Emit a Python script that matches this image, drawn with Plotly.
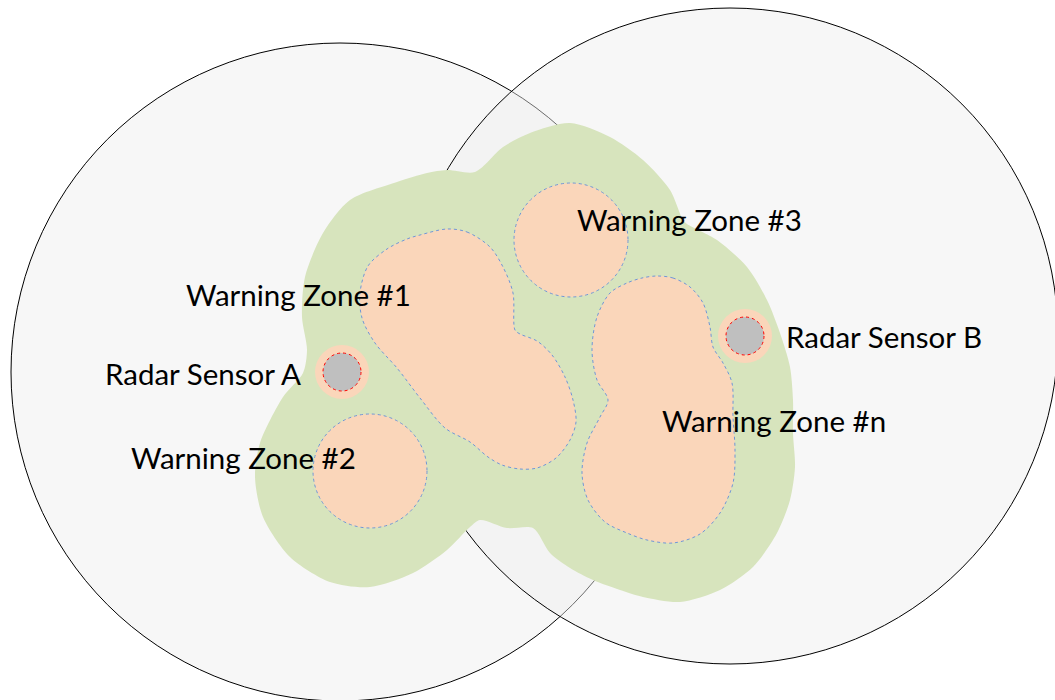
import plotly.graph_objects as go

# ---- data (diagram geometry in pixel units, y downward) ----
coverage_names = ["Radar A coverage", "Radar B coverage"]
coverage_cx = [340, 730]
coverage_cy = [372, 336]
coverage_r = [329, 328]

green_x = [570, 610, 643, 670, 683, 687, 717, 747, 767, 780, 790, 793, 793, 795, 790, 777, 753, 720, 680, 643,
           620, 593, 570, 550, 533, 507, 480, 470, 447, 413, 370, 330, 290, 263, 255, 260, 283, 303, 307, 302,
           305, 323, 350, 397, 427, 447, 475, 503, 530, 570]
green_y = [123, 137, 160, 190, 220, 224, 240, 267, 300, 333, 367, 400, 433, 467, 500, 533, 567, 590, 602, 597,
           590, 580, 568, 553, 528, 528, 520, 527, 550, 573, 587, 582, 557, 517, 477, 443, 397, 373, 350, 317,
           277, 233, 200, 182, 173, 170, 172, 147, 133, 123]

zone1_x = [447, 467, 490, 503, 513, 515, 520, 537, 552, 565, 573, 576, 570, 556, 537, 520, 502, 488, 470, 445,
           420, 397, 375, 362, 360, 368, 387, 407, 420, 447]
zone1_y = [229, 232, 247, 267, 293, 330, 334, 341, 355, 377, 400, 422, 440, 458, 468, 469, 465, 457, 442, 428,
           398, 368, 343, 318, 293, 266, 249, 239, 235, 229]

zonen_x = [657, 673, 690, 703, 710, 713, 723, 732, 733, 735, 733, 720, 700, 673, 647, 627, 605, 588, 582, 587,
           600, 608, 597, 592, 597, 610, 627, 642, 657]
zonen_y = [276, 278, 287, 303, 327, 347, 363, 383, 417, 450, 483, 513, 534, 543, 540, 533, 522, 500, 473, 443,
           417, 400, 380, 350, 317, 293, 283, 278, 276]

round_zone_cx = [370, 571]
round_zone_cy = [471, 240]
round_zone_r = [57, 57]

sensor_names = ["Radar Sensor A", "Radar Sensor B"]
sensor_cx = [342, 745]
sensor_cy = [372, 336]
sensor_halo_r = [27, 27]
sensor_r = [19, 19]

label_text = ["Warning Zone #3", "Warning Zone #1", "Radar Sensor A", "Warning Zone #2",
              "Radar Sensor B", "Warning Zone #n"]
label_x = [575, 184, 103, 129, 784, 660]
label_y = [219, 294, 373, 457, 336, 420]

# ---- styles ----
GREEN = "#D7E4BD"
ORANGE = "#FAD6BA"
BLUE_DOT = "#6F96D8"
GRAY = "#BFBFBF"

fig = go.Figure()
shapes = []

# coverage circles (right one semi-transparent so the overlap darkens)
fills = ["#F7F7F7", "rgba(238,238,238,0.45)"]
for cx, cy, r, fc in zip(coverage_cx, coverage_cy, coverage_r, fills):
    shapes.append(dict(type="circle", xref="x", yref="y", x0=cx - r, x1=cx + r, y0=cy - r, y1=cy + r,
                       fillcolor=fc, line=dict(color="black", width=1), layer="below"))

# green buffer area
fig.add_trace(go.Scatter(x=green_x, y=green_y, mode="lines", fill="toself", fillcolor=GREEN,
                         line=dict(color=GREEN, width=0, shape="spline", smoothing=0.8),
                         hoverinfo="skip", showlegend=False))

# irregular warning zones
for zx, zy in [(zone1_x, zone1_y), (zonen_x, zonen_y)]:
    fig.add_trace(go.Scatter(x=zx, y=zy, mode="lines", fill="toself", fillcolor=ORANGE,
                             line=dict(color=BLUE_DOT, width=1, dash="dot", shape="spline", smoothing=0.9),
                             hoverinfo="skip", showlegend=False))

# round warning zones
for cx, cy, r in zip(round_zone_cx, round_zone_cy, round_zone_r):
    shapes.append(dict(type="circle", xref="x", yref="y", x0=cx - r, x1=cx + r, y0=cy - r, y1=cy + r,
                       fillcolor=ORANGE, line=dict(color=BLUE_DOT, width=1, dash="dot")))

# sensors
for cx, cy, hr, r in zip(sensor_cx, sensor_cy, sensor_halo_r, sensor_r):
    shapes.append(dict(type="circle", xref="x", yref="y", x0=cx - hr, x1=cx + hr, y0=cy - hr, y1=cy + hr,
                       fillcolor=ORANGE, line=dict(width=0)))
    shapes.append(dict(type="circle", xref="x", yref="y", x0=cx - r, x1=cx + r, y0=cy - r, y1=cy + r,
                       fillcolor=GRAY, line=dict(color="red", width=1, dash="dot")))

annotations = []
for t, x, y in zip(label_text, label_x, label_y):
    annotations.append(dict(text=t, x=x, y=y, xref="x", yref="y", xanchor="left", yanchor="middle",
                            showarrow=False, font=dict(family="Lato, Carlito, sans-serif", size=29.5, color="black")))

fig.update_layout(
    width=1055, height=700, margin=dict(l=0, r=0, t=0, b=0),
    paper_bgcolor="white", plot_bgcolor="white",
    shapes=shapes, annotations=annotations,
    xaxis=dict(range=[0, 1055], visible=False, fixedrange=True),
    yaxis=dict(range=[700, 0], visible=False, fixedrange=True),
    showlegend=False,
)

fig.write_html("out.html", config={"displayModeBar": False},
               post_script="document.body.style.margin='0';document.body.style.overflow='hidden';")
